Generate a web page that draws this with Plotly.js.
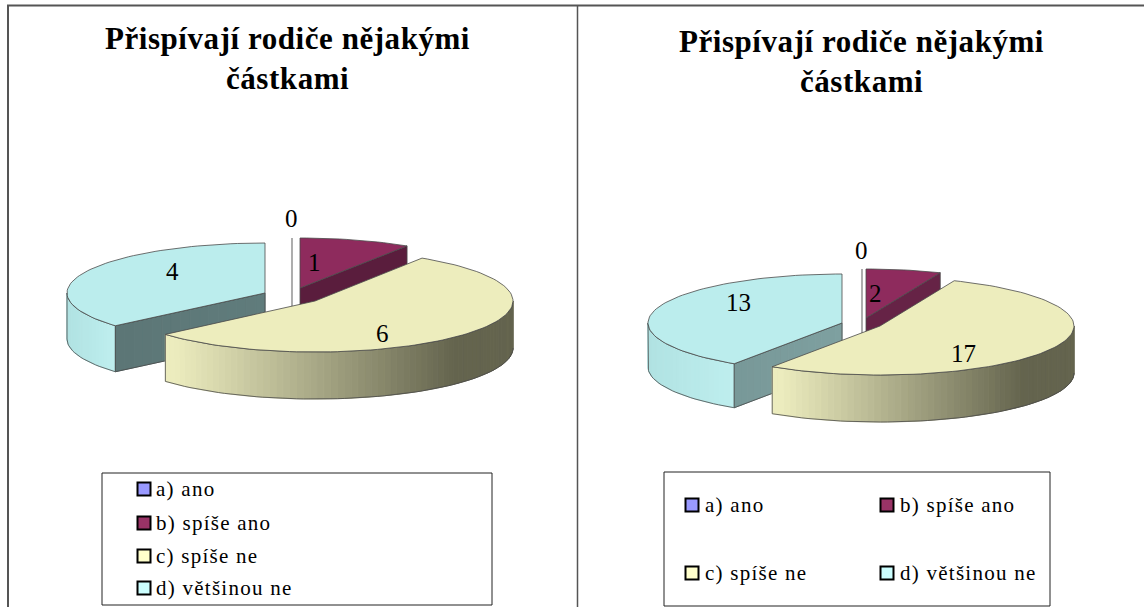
<!DOCTYPE html>
<html><head><meta charset="utf-8">
<script src="https://cdn.plot.ly/plotly-3.0.1.min.js"></script>
<style>html,body{margin:0;padding:0;background:#fff}#c{width:1144px;height:607px}
.annotation-text[style*="font-size: 21px"]{letter-spacing:1.25px}
.annotation-text[style*="font-size: 31px"]{letter-spacing:0.55px}
</style>
</head><body><div id="c"></div>
<script>
const categories = ["a) ano","b) spíše ano","c) spíše ne","d) většinou ne"];
const leftValues = [0,1,6,4];
const rightValues = [0,2,17,13];
const chartTitle = ["Přispívají rodiče nějakými","částkami"];
const legendColors = ["#9999FF","#993366","#FFFFCC","#CCFFFF"];

const W=1144,H=607;
const traces=[], shapes=[], annotations=[];
const OUT="#4a4a4a";
function pt(c,deg,rx,ry,dy){const t=deg*Math.PI/180;return [c[0]+rx*Math.sin(t),c[1]-ry*Math.cos(t)+(dy||0)];}
function arc(c,a,b,rx,ry,dy){const n=Math.max(2,Math.ceil(Math.abs(b-a)/2));const r=[];for(let i=0;i<=n;i++)r.push(pt(c,a+(b-a)*i/n,rx,ry,dy));return r;}
function poly(p,fill,line){
  traces.push({type:"scatter",mode:"lines",x:p.map(q=>q[0]).concat(p[0][0]),y:p.map(q=>q[1]).concat(p[0][1]),
    fill:"toself",fillcolor:fill,line:{color:line||fill,width:line?0.8:1},hoverinfo:"skip",showlegend:false});
}
function polyline(p,color,w){
  traces.push({type:"scatter",mode:"lines",x:p.map(q=>q[0]),y:p.map(q=>q[1]),line:{color:color,width:w||0.8},hoverinfo:"skip",showlegend:false});
}
function mix(a,b,t){t=Math.max(0,Math.min(1,t));const c=a.map((v,i)=>Math.round(v+(b[i]-v)*t));return `rgb(${c[0]},${c[1]},${c[2]})`;}

function pie3d(values,g){
  const total=values.reduce((s,v)=>s+v,0);
  const ang=[];let acc=0;values.forEach(v=>{ang.push([acc/total*360,(acc+v)/total*360]);acc+=v;});
  const {rx,ry,d}=g;
  polyline([[g.zero[0],g.zero[1]],[g.zero[0],g.zero[1]+ry+d-2]],"#777777",1.2);
  {const [a,b]=ang[1];const c=g.cb;
   const p0=c,p1=pt(c,b,rx,ry);
   poly([p0,p1,[p1[0],p1[1]+d],[p0[0],p0[1]+d]],g.purpleCut,OUT);
   poly([c].concat(arc(c,a,b,rx,ry)),"#8E2B5D",OUT);}
  {const [a,b]=ang[3];const c=g.cd;
   const p1=pt(c,a,rx,ry);
   const wall=arc(c,a,270,rx,ry);
   for(let i=0;i<wall.length-1;i++){
     const t=(wall[i][0]-(c[0]-rx))/(p1[0]-(c[0]-rx));
     poly([wall[i],wall[i+1],[wall[i+1][0],wall[i+1][1]+d],[wall[i][0],wall[i][1]+d]],mix([176,226,226],[190,238,238],t));
   }
   polyline(wall.concat(wall.slice().reverse().map(q=>[q[0],q[1]+d])),OUT);
   const steps=16;
   for(let i=0;i<steps;i++){
     const A=[p1[0]+(c[0]-p1[0])*i/steps,p1[1]+(c[1]-p1[1])*i/steps];
     const B=[p1[0]+(c[0]-p1[0])*(i+1)/steps,p1[1]+(c[1]-p1[1])*(i+1)/steps];
     poly([A,B,[B[0],B[1]+d],[A[0],A[1]+d]],mix(g.cutL,g.cutR,i/steps));
   }
   polyline([c,[c[0],c[1]+d],[p1[0],p1[1]+d],p1,c],OUT);
   poly([c].concat(arc(c,a,b,rx,ry)),"#BBEDED",OUT);}
  {const [a,b]=ang[2];const c=g.cc,dc=g.dc,ryc=g.ryc;
   const wall=arc(c,90,b,rx,ryc);
   const L=pt(c,b,rx,ryc)[0],R=c[0]+rx;
   for(let i=0;i<wall.length-1;i++){
     const t=((wall[i][0]+wall[i+1][0])/2-L)/(R-L);
     poly([wall[i],wall[i+1],[wall[i+1][0],wall[i+1][1]+dc],[wall[i][0],wall[i][1]+dc]],mix([236,236,190],[100,100,78],(t-0.03)/0.8));
   }
   polyline(wall.concat(wall.slice().reverse().map(q=>[q[0],q[1]+dc])),OUT);
   poly([c].concat(arc(c,a,b,rx,ryc)),"#EDEDBD",OUT);}
}

pie3d(leftValues,{rx:198,ry:50,ryc:51,d:46,dc:47,cb:[300,288],cc:[315,301],cd:[265,293],zero:[292,238],
  purpleCut:"#5A1D3D",cutL:[92,118,118],cutR:[96,124,124]});
pie3d(rightValues,{rx:194,ry:49,ryc:49,d:44,dc:47,cb:[866,318],cc:[880,326],cd:[842,323],zero:[862,269],
  purpleCut:"#662346",cutL:[120,152,152],cutR:[126,160,160]});

function txt(x,y,t,size,o){annotations.push(Object.assign({x,y,xref:"x",yref:"y",text:t,showarrow:false,
  font:{family:"Liberation Serif",size:size,color:"#000"},xanchor:"center",yanchor:"middle"},o||{}));}
function lab(vals,pos){vals.forEach((v,i)=>txt(pos[i][0],pos[i][1],String(v),25));}
lab(leftValues,[[291,218],[314,262],[382,333],[172,271]]);
lab(rightValues,[[861,250],[875,293],[963,353],[738,302]]);

const tf={family:"Liberation Serif",size:31,color:"#000",weight:700};
txt(287.5,38,chartTitle[0],31,{font:tf});
txt(287.5,78,chartTitle[1],31,{font:tf});
txt(861,41,chartTitle[0],31,{font:tf});
txt(861,81,chartTitle[1],31,{font:tf});

function ln(x0,y0,x1,y1,w){shapes.push({type:"line",x0,y0,x1,y1,xref:"x",yref:"y",line:{color:"#555",width:w}});}
ln(7,5.5,1144,5.5,2);ln(8,5,8,607,2);ln(577.5,5,577.5,607,1.5);

function box(x0,y0,x1,y1){shapes.push({type:"rect",x0,y0,x1,y1,xref:"x",yref:"y",line:{color:"#222",width:1},fillcolor:"rgba(0,0,0,0)"});}
box(102,473,492,605);box(664,472,1050,606);
function legend(xs,ys,tx){
  traces.push({type:"scatter",mode:"markers",x:xs,y:ys,marker:{symbol:"square",size:13,color:legendColors,line:{color:"#000",width:2}},hoverinfo:"skip",showlegend:false});
  categories.forEach((c,i)=>txt(tx[i],ys[i],c,21,{xanchor:"left"}));
}
legend([144,144,144,144],[489,523,556,588],[154,154,154,154]);
legend([692,887,692,887],[505,505,573,573],[703,898,703,898]);

Plotly.newPlot("c",traces,{
  width:W,height:H,margin:{l:0,r:0,t:0,b:0},paper_bgcolor:"#fff",plot_bgcolor:"#fff",showlegend:false,
  xaxis:{range:[0,W],visible:false,fixedrange:true},
  yaxis:{range:[H,0],visible:false,fixedrange:true},
  shapes:shapes,annotations:annotations
},{displayModeBar:false,staticPlot:true});
</script></body></html>
